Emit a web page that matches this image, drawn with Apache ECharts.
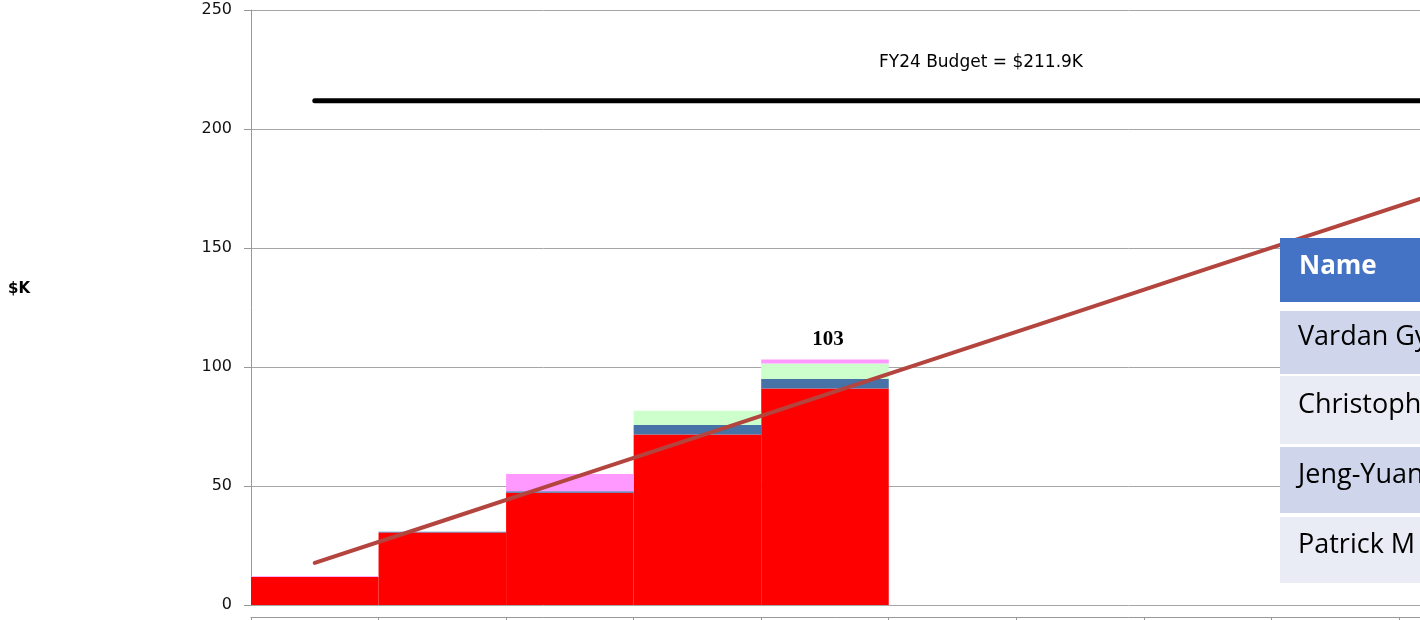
<!DOCTYPE html>
<html>
<head>
<meta charset="utf-8">
<script src="https://cdn.jsdelivr.net/npm/echarts@6/dist/echarts.min.js"></script>
<style>
html,body{margin:0;padding:0;background:#fff;}
#chart{width:1420px;height:620px;}
</style>
</head>
<body>
<div id="chart"></div>
<script>
// ---- data ----
const categories = ['Oct','Nov','Dec','Jan','Feb','Mar','Apr','May','Jun','Jul','Aug','Sep'];
const redVals   = [11.8, 30.5, 47.2, 71.6, 91.0];
const blueVals  = [0,    0.3,  0.6,  4.0,  4.0];
const greenVals = [0,    0,    0,    6.0,  6.5];
const pinkVals  = [0.3,  0,    7.2,  0,    1.7];
const planVals  = [17.7, 35.3, 53.0, 70.6, 88.3, 105.9, 123.6, 141.3, 158.9, 176.6, 194.2, 211.9];
const budgetVals = [211.9, 211.9, 211.9, 211.9, 211.9, 211.9, 211.9, 211.9, 211.9, 211.9, 211.9, 211.9];
const budgetLabel = 'FY24 Budget = $211.9K';
const yAxisTitle = '$K';
const tableHeader = 'Name';
const tableNames = ['Vardan Gy', 'Christoph', 'Jeng-Yuan', 'Patrick M'];
const yMin = 0, yMax = 250, yStep = 50;

const totals = redVals.map((v, i) => v + blueVals[i] + greenVals[i] + pinkVals[i]);
const lastIdx = redVals.length - 1;

// ---- table graphic ----
const rowTops = [311, 376, 447, 517];
const rowBottoms = [374, 444, 513, 583];
const rowTextOff = [26, 29, 28, 28];
const tableGraphics = [
  {type:'rect', left:1280, top:238, z:100, shape:{width:300, height:64}, style:{fill:'#4472c4'}},
  {type:'text', x:1299, y:267, z:101, style:{text:tableHeader, fill:'#fff', font:'bold 26px "Open Sans"', textVerticalAlign:'middle'}}
];
tableNames.forEach((n, i) => {
  tableGraphics.push({type:'rect', left:1280, top:rowTops[i], z:100,
    shape:{width:300, height:rowBottoms[i]-rowTops[i]},
    style:{fill: i % 2 === 0 ? '#cfd5ea' : '#e9ebf5'}});
  tableGraphics.push({type:'text', x:1298, y:rowTops[i] + rowTextOff[i], z:101,
    style:{text:n, fill:'#000', font:'27px "Open Sans"', textVerticalAlign:'middle'}});
});

const chart = echarts.init(document.getElementById('chart'));
chart.setOption({
  animation:false,
  backgroundColor:'#fff',
  grid:{left:251, top:10, height:595, width:1530.6, outerBoundsMode:'none', containLabel:false},
  xAxis:{
    type:'category', data:categories, offset:12,
    axisLine:{onZero:false, lineStyle:{color:'#999', width:1}},
    axisTick:{show:true, length:5, lineStyle:{color:'#999'}},
    axisLabel:{show:false},
    splitLine:{show:false}
  },
  yAxis:{
    type:'value', min:yMin, max:yMax, interval:yStep,
    axisLine:{show:true, lineStyle:{color:'#999'}},
    axisTick:{show:true, length:7, lineStyle:{color:'#999'}},
    axisLabel:{margin:19, color:'#111', fontFamily:'DejaVu Sans', fontSize:16},
    splitLine:{lineStyle:{color:'#a6a6a6', width:1}}
  },
  graphic:[
    {type:'text', x:19, y:289, style:{text:yAxisTitle, font:'bold 15px "DejaVu Sans"', fill:'#000', textAlign:'center', textVerticalAlign:'middle'}},
    {type:'text', x:981, y:63, style:{text:budgetLabel, font:'17px "DejaVu Sans"', fill:'#000', textAlign:'center', textVerticalAlign:'middle'}}
  ].concat(tableGraphics),
  series:[
    {name:'red', type:'bar', stack:'a', data:redVals, barCategoryGap:'0%', itemStyle:{color:'#ff0000'}},
    {name:'blue', type:'bar', stack:'a', data:blueVals, itemStyle:{color:'#4672a8'}},
    {name:'green', type:'bar', stack:'a', data:greenVals, itemStyle:{color:'#ccffcc'}},
    {name:'pink', type:'bar', stack:'a', data:pinkVals, itemStyle:{color:'#ff99ff'},
      label:{show:true, position:'top', distance:9, offset:[3,0],
        formatter:p => p.dataIndex === lastIdx ? String(Math.round(totals[p.dataIndex])) : '',
        fontFamily:'Liberation Serif', fontWeight:'bold', fontSize:21, color:'#000'}},
    {name:'plan', type:'line', data:planVals, symbol:'none', z:5,
      lineStyle:{color:'#b3443e', width:4, cap:'round'}},
    {name:'budget', type:'line', data:budgetVals, symbol:'none', z:5,
      lineStyle:{color:'#000', width:5, cap:'round'}}
  ]
});
</script>
</body>
</html>
